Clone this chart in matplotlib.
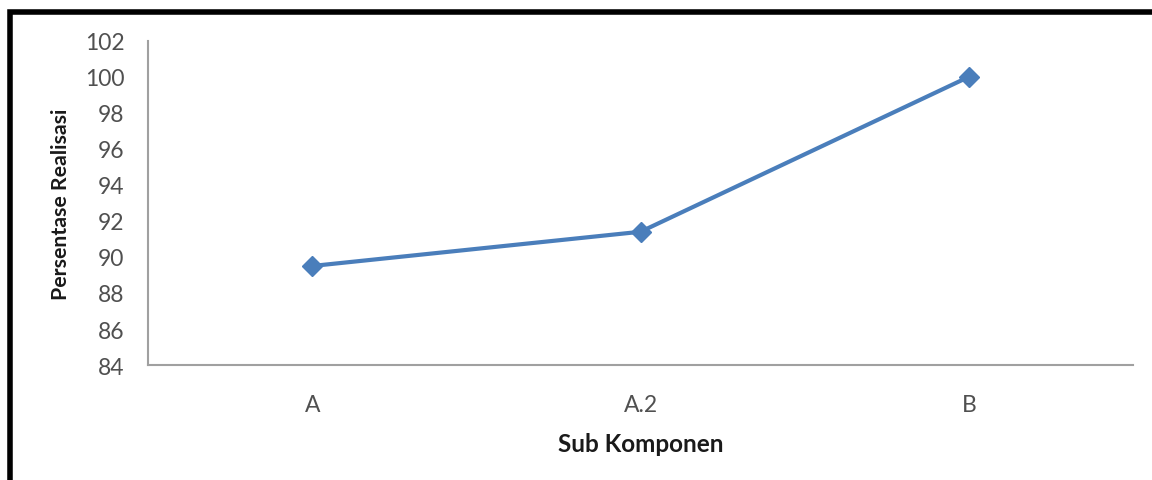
import matplotlib
matplotlib.use("Agg")
import matplotlib.pyplot as plt
from matplotlib.patches import Rectangle

# realisasi per sub komponen (%)
sub_komponen = ["A", "A.2", "B"]
persentase = [89.5, 91.4, 100.0]
y_ticks = [84, 86, 88, 90, 92, 94, 96, 98, 100, 102]

plt.rcParams['font.family'] = ['Lato', 'DejaVu Sans']

fig = plt.figure(figsize=(11.52, 4.81), dpi=100)
ax = fig.add_axes([0.1285, 0.239, 0.855, 0.674])

x = list(range(len(sub_komponen)))
ax.plot(x, persentase, color='#4a7ebb', linewidth=3, marker='D',
        markersize=10, markerfacecolor='#4a7ebb', markeredgecolor='#4a7ebb')

ax.set_xlim(-0.5, len(sub_komponen) - 0.5)
ax.set_ylim(84, 102)
ax.set_xticks(x)
ax.set_xticklabels(sub_komponen)
ax.set_yticks(y_ticks)
ax.tick_params(axis='both', length=0, labelsize=16.5, colors='#505050')
ax.tick_params(axis='x', pad=21)
ax.tick_params(axis='y', pad=17)

for side in ['top', 'right']:
    ax.spines[side].set_visible(False)
for side in ['left', 'bottom']:
    ax.spines[side].set_color('#a0a0a0')
    ax.spines[side].set_linewidth(1.5)

ax.set_ylabel('Persentase Realisasi', fontsize=15.3, fontweight='bold',
              labelpad=10, color='#1a1a1a')
ax.set_xlabel('Sub Komponen', fontsize=17.5, fontweight='bold',
              labelpad=12, color='#1a1a1a')

# black frame around the chart, cut off at right and bottom
fig.patches.append(Rectangle((10 / 1152, -0.1), 1.2, 1 - 13 / 481 + 0.1,
                             transform=fig.transFigure, fill=False,
                             edgecolor='black', linewidth=4, clip_on=False))

fig.savefig('out.png', dpi=100)
